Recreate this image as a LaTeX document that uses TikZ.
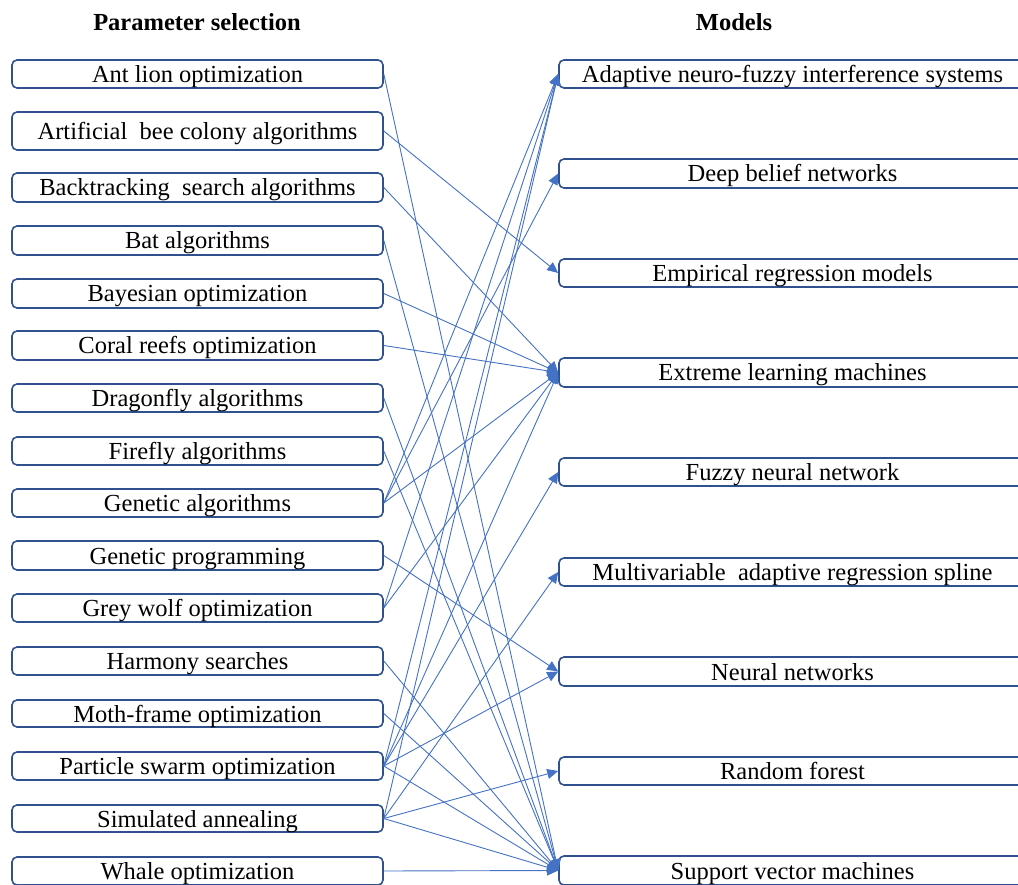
\documentclass[tikz,border=0pt]{standalone}
\usepackage{fontspec}
\setmainfont{Liberation Serif}
\usetikzlibrary{arrows.meta}
\definecolor{boxline}{HTML}{2F528F}
\definecolor{conn}{HTML}{4472C4}
\begin{document}
\begin{tikzpicture}[x=1pt,y=-1pt,
  every node/.style={font=\fontsize{24.5}{28}\selectfont},
  lbox/.style={draw=boxline,line width=1.6pt,rounded corners=5pt,minimum width=371pt,minimum height=28pt,inner sep=0pt,text height=20pt,text depth=3pt},
  rbox/.style={draw=boxline,line width=1.6pt,rounded corners=5pt,minimum width=467pt,minimum height=28pt,inner sep=0pt,text height=20pt,text depth=3pt},
  head/.style={font=\fontsize{24.5}{28}\selectfont\bfseries},
  link/.style={draw=conn,line width=0.9pt,-{Triangle[length=11pt,width=10pt]}}]
\useasboundingbox (0,0) rectangle (1018,885);
\node[head] (h1) at (197,22) {Parameter selection};
\node[head] (h2) at (734,22) {Models};
% left boxes
\node[lbox] (l1) at (197.5,74) {Ant lion optimization};
\node[lbox,minimum height=38pt] (l2) at (197.5,131) {Artificial\ \ bee colony algorithms};
\node[lbox,minimum height=29pt] (l3) at (197.5,187.5) {Backtracking\ \ search algorithms};
\node[lbox,minimum height=29pt] (l4) at (197.5,240.5) {Bat algorithms};
\node[lbox,minimum height=29pt] (l5) at (197.5,293.5) {Bayesian optimization};
\node[lbox,minimum height=29pt] (l6) at (197.5,345.5) {Coral reefs optimization};
\node[lbox] (l7) at (197.5,398) {Dragonfly algorithms};
\node[lbox] (l8) at (197.5,451) {Firefly algorithms};
\node[lbox] (l9) at (197.5,503) {Genetic algorithms};
\node[lbox,minimum height=29pt] (l10) at (197.5,555.5) {Genetic programming};
\node[lbox] (l11) at (197.5,608) {Grey wolf optimization};
\node[lbox] (l12) at (197.5,661) {Harmony searches};
\node[lbox,minimum height=27pt] (l13) at (197.5,713.5) {Moth-frame optimization};
\node[lbox] (l14) at (197.5,766) {Particle swarm optimization};
\node[lbox,minimum height=27pt] (l15) at (197.5,818.5) {Simulated annealing};
\node[lbox] (l16) at (197.5,871) {Whale optimization};
% right boxes
\node[rbox] (r1) at (792.5,74) {Adaptive neuro-fuzzy interference systems};
\node[rbox,minimum height=29pt] (r2) at (792.5,173.5) {Deep belief networks};
\node[rbox] (r3) at (792.5,273) {Empirical regression models};
\node[rbox,minimum height=29pt] (r4) at (792.5,372.5) {Extreme learning machines};
\node[rbox] (r5) at (792.5,472) {Fuzzy neural network};
\node[rbox] (r6) at (792.5,572) {Multivariable\ \ adaptive regression spline};
\node[rbox,minimum height=29pt] (r7) at (792.5,671.5) {Neural networks};
\node[rbox] (r8) at (792.5,771) {Random forest};
\node[rbox,minimum height=29pt] (r9) at (792.5,870.5) {Support vector machines};
% connectors
\foreach \a/\b in {l1/r9,l2/r3,l3/r4,l4/r9,l5/r4,l6/r4,l7/r9,l8/r9,
  l9/r1,l9/r2,l9/r4,l10/r7,l11/r1,l11/r4,l12/r9,l13/r9,
  l14/r1,l14/r4,l14/r5,l14/r7,l14/r9,l15/r1,l15/r6,l15/r8,l15/r9,l16/r9}
  \draw[link] (\a.east) -- (\b.west);
\end{tikzpicture}
\end{document}
